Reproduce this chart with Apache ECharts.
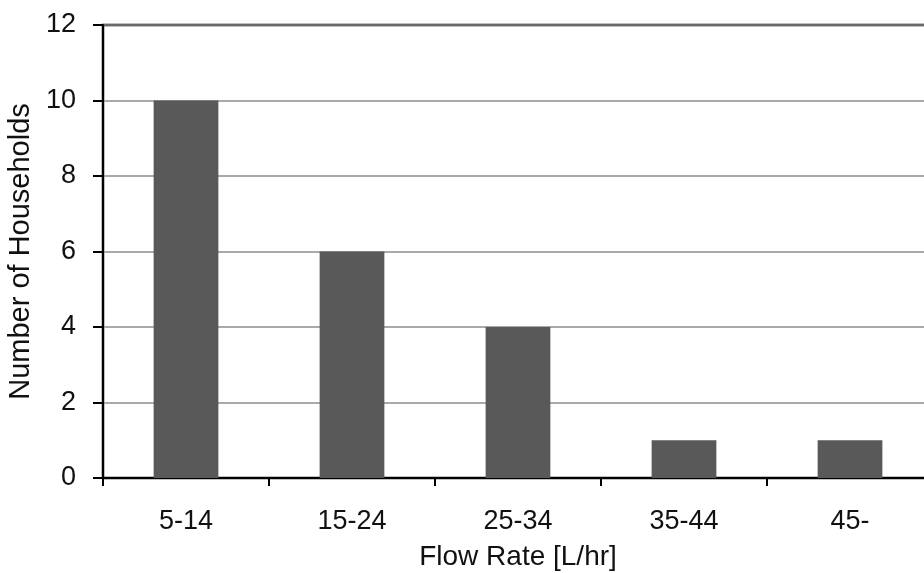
<!DOCTYPE html>
<html>
<head>
<meta charset="utf-8">
<script src="https://cdn.jsdelivr.net/npm/echarts@6/dist/echarts.min.js"></script>
<style>
  html, body { margin: 0; padding: 0; background: #fff; }
  #chart { width: 924px; height: 573px; }
</style>
</head>
<body>
<div id="chart"></div>
<script>
// flow rate bins and household counts
var categories = ["5-14", "15-24", "25-34", "35-44", "45-"];
var households = [10, 6, 4, 1, 1];
var yTicks = [0, 2, 4, 6, 8, 10, 12];

var myChart = echarts.init(document.getElementById("chart"));

var option = {
  animation: false,
  backgroundColor: "#fff",
  textStyle: { fontFamily: "Liberation Sans, Arial, sans-serif" },
  // plot area runs a bit past the right edge of the picture
  grid: {
    left: 103, width: 830, top: 25, bottom: 95,
    outerBoundsMode: "none",
    show: true, borderColor: "#000", borderWidth: 2.5
  },
  xAxis: {
    type: "category",
    data: categories,
    name: "Flow Rate [L/hr]",
    nameLocation: "middle",
    nameGap: 65,
    nameTextStyle: { fontSize: 28, color: "#111" },
    axisLine: { lineStyle: { color: "#000", width: 2 } },
    axisTick: { show: true, length: 8, lineStyle: { color: "#000", width: 2 } },
    axisLabel: { fontSize: 27, color: "#111", margin: 30 }
  },
  yAxis: {
    type: "value",
    min: yTicks[0],
    max: yTicks[yTicks.length - 1],
    interval: yTicks[1] - yTicks[0],
    name: "Number of Households",
    nameLocation: "middle",
    nameGap: 67,
    nameTextStyle: { fontSize: 29, color: "#111" },
    axisLine: { show: true, lineStyle: { color: "#000", width: 2 } },
    axisTick: { show: true, length: 10, lineStyle: { color: "#000", width: 2 } },
    axisLabel: { fontSize: 27, color: "#111", margin: 27 },
    splitLine: { lineStyle: { color: "#8c8c8c", width: 1.5 } }
  },
  series: [{
    type: "bar",
    data: households,
    barWidth: "39%",
    itemStyle: { color: "#595959" }
  }]
};

myChart.setOption(option);
</script>
</body>
</html>
